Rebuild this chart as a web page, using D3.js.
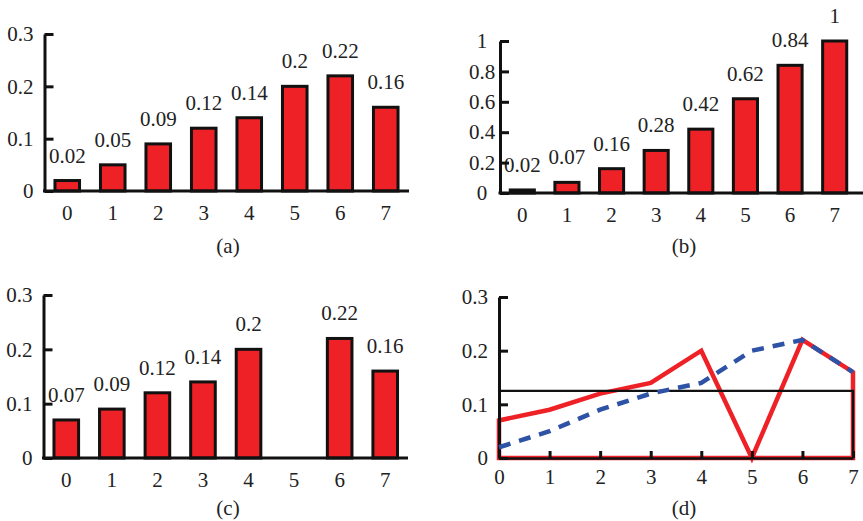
<!DOCTYPE html>
<html><head><meta charset="utf-8">
<script src="https://cdn.jsdelivr.net/npm/d3@7"></script>
<style>
body{margin:0;background:#fff;}
</style></head>
<body><svg id="c" width="863" height="521"></svg>
<script>
const categories = [0,1,2,3,4,5,6,7];
const valuesA = [0.02,0.05,0.09,0.12,0.14,0.2,0.22,0.16];
const valuesB = [0.02,0.07,0.16,0.28,0.42,0.62,0.84,1];
const valuesC = [0.07,0.09,0.12,0.14,0.2,null,0.22,0.16];
const ticksSmall = [0,0.1,0.2,0.3];
const ticksB = [0,0.2,0.4,0.6,0.8,1];
const uniform = 0.125;

const RED = "#ee2226", BLUE = "#2e52a6";
const FONT = '"Liberation Serif"';
const FS = "21px";
const svg = d3.select("#c");
function styleText(sel){ sel.attr("font-family",null).style("font-family",FONT).style("font-size",FS).attr("fill","#222"); }

function barPanel(o){
  const g = svg.append("g");
  const x = d3.scaleBand().domain(categories).range(o.xr).paddingInner(0.46).paddingOuter(0.23);
  const y = d3.scaleLinear().domain(o.yd).range(o.yr);
  const xa = g.append("g").attr("transform",`translate(0,${o.yr[0]})`)
    .call(d3.axisBottom(x).tickSize(0).tickPadding(14));
  xa.attr("font-family",null);
  xa.select(".domain").remove();
  styleText(xa.selectAll("text"));
  const data = categories.map((c,i)=>({c,v:o.vals[i]})).filter(d=>d.v!==null);
  g.selectAll("rect.bar").data(data).enter().append("rect")
    .attr("x",d=>x(d.c)).attr("width",x.bandwidth())
    .attr("y",d=>y(d.v)).attr("height",d=>y(0)-y(d.v))
    .attr("fill",RED).attr("stroke","#111").attr("stroke-width",3);
  styleText(g.selectAll("text.lab").data(data).enter().append("text")
    .attr("x",d=>x(d.c)+x.bandwidth()/2).attr("y",d=>y(d.v)-18)
    .attr("text-anchor","middle").text(d=>d.v));
  const ya = g.append("g").attr("transform",`translate(${o.xr[0]},0)`)
    .call(d3.axisLeft(y).tickValues(o.ticks).tickSizeInner(-9).tickSizeOuter(0).tickPadding(11).tickFormat(d=>String(d)));
  ya.attr("font-family",null);
  ya.select(".domain").attr("stroke","#111").attr("stroke-width",3);
  ya.selectAll(".tick line").attr("stroke","#111").attr("stroke-width",3);
  styleText(ya.selectAll("text"));
  if(o.center){ ya.selectAll("text").attr("text-anchor","middle").attr("x",-18); }
  g.append("line").attr("x1",o.xr[0]-1.5).attr("x2",o.xend).attr("y1",y(0)).attr("y2",y(0))
    .attr("stroke","#111").attr("stroke-width",3);
  styleText(svg.append("text").attr("x",o.cap[0]).attr("y",o.cap[1]).attr("text-anchor","middle").text(o.capText));
}

barPanel({xr:[44.5,408.5],xend:409,yd:[0,0.3],yr:[191,34],vals:valuesA,ticks:ticksSmall,cap:[228,253],capText:"(a)"});
barPanel({xr:[500,857],xend:863,yd:[0,1],yr:[193,41],vals:valuesB,ticks:ticksB,cap:[684,253],capText:"(b)",center:true});
barPanel({xr:[43.5,408],xend:408,yd:[0,0.3],yr:[458,295],vals:valuesC,ticks:ticksSmall,cap:[228,515],capText:"(c)"});

(function(){
  const g = svg.append("g");
  const x = d3.scaleLinear().domain([0,7]).range([499,853]);
  const y = d3.scaleLinear().domain([0,0.3]).range([458,297]);
  const redPts = categories.map((c,i)=>[c, valuesC[i]===null?0:valuesC[i]]);
  const poly = [[0,0]].concat(redPts).concat([[7,0]]);
  g.append("path").datum(poly)
    .attr("d",d3.line().x(d=>x(d[0])).y(d=>y(d[1])).curve(d3.curveLinearClosed))
    .attr("fill","none").attr("stroke",RED).attr("stroke-width",4.5).attr("stroke-linejoin","miter");
  const xa = g.append("g").attr("transform",`translate(0,${y(0)})`)
    .call(d3.axisBottom(x).tickValues(categories).tickSizeInner(-7).tickSizeOuter(0).tickPadding(11).tickFormat(d3.format("d")));
  xa.attr("font-family",null);
  xa.select(".domain").attr("stroke","#111").attr("stroke-width",2.5);
  xa.selectAll(".tick line").attr("stroke","#111").attr("stroke-width",3);
  styleText(xa.selectAll("text"));
  const ya = g.append("g").attr("transform",`translate(${x(0)},0)`)
    .call(d3.axisLeft(y).tickValues(ticksSmall).tickSizeInner(-9).tickSizeOuter(0).tickPadding(11).tickFormat(d=>String(d)));
  ya.attr("font-family",null);
  ya.select(".domain").attr("stroke","#111").attr("stroke-width",3);
  ya.selectAll(".tick line").attr("stroke","#111").attr("stroke-width",3);
  styleText(ya.selectAll("text"));
  const step = [[0,uniform],[7,uniform],[7,0]];
  g.append("path").datum(step)
    .attr("d",d3.line().x(d=>x(d[0])).y(d=>y(d[1])))
    .attr("fill","none").attr("stroke","#111").attr("stroke-width",2.2);
  g.append("path").datum(categories.map((c,i)=>[c,valuesA[i]]))
    .attr("d",d3.line().x(d=>x(d[0])).y(d=>y(d[1])))
    .attr("fill","none").attr("stroke",BLUE).attr("stroke-width",4.5).attr("stroke-dasharray","12,9");
  styleText(svg.append("text").attr("x",684).attr("y",515).attr("text-anchor","middle").text("(d)"));
})();
</script></body></html>
